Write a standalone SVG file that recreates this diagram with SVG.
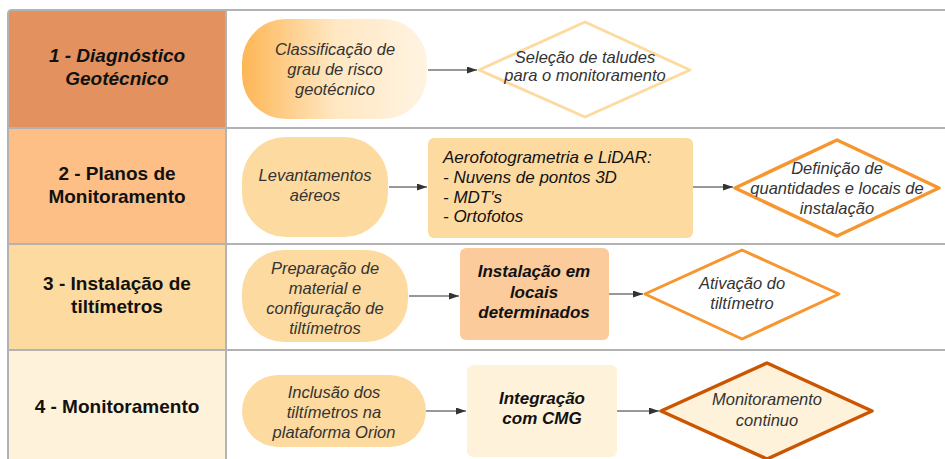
<svg xmlns="http://www.w3.org/2000/svg" width="945" height="459" viewBox="0 0 945 459">
<defs>
<style>
.lbl{font-family:"Liberation Sans",Arial,sans-serif;font-weight:bold;font-size:19px;fill:#111;text-anchor:middle}
.t{font-family:"Liberation Sans",Arial,sans-serif;font-style:italic;font-size:16.5px;fill:#333;text-anchor:middle}
.tl{font-family:"Liberation Sans",Arial,sans-serif;font-style:italic;font-size:17px;fill:#111;text-anchor:start}
.tb{font-family:"Liberation Sans",Arial,sans-serif;font-style:italic;font-weight:bold;font-size:17px;fill:#111;text-anchor:middle}
.grid{stroke:#b3b3b3;stroke-width:2;fill:none}
.conn{stroke:#333;stroke-width:1.2;fill:none;marker-end:url(#arr)}
</style>
<linearGradient id="g1" x1="0" y1="0" x2="1" y2="0">
<stop offset="0" stop-color="#FDB655"/>
<stop offset="0.5" stop-color="#FFE7C2"/>
<stop offset="1" stop-color="#FFF4E2"/>
</linearGradient>
<marker id="arr" markerWidth="11" markerHeight="8" refX="10" refY="3.5" orient="auto" markerUnits="userSpaceOnUse">
<path d="M0,0 L10,3.5 L0,7 z" fill="#333"/>
</marker>
</defs>
<rect width="945" height="459" fill="#fff"/>
<g id="lanes">
<path d="M8,128 V14 Q8,10 12,10 H226 V128 Z" fill="#E3915F"/>
<rect x="8" y="128" width="218" height="116" fill="#FDBF86"/>
<rect x="8" y="244" width="218" height="106" fill="#FDDAA0"/>
<rect x="8" y="350" width="218" height="110" fill="#FFF2DA"/>
<path class="grid" d="M8,460 V14 Q8,10 12,10 H946"/>
<path class="grid" d="M226,10 V460 M8,128 H946 M8,244 H946 M8,350 H946"/>
<text class="lbl" font-style="italic"><tspan x="117" y="62">1 - Diagnóstico</tspan><tspan x="117" y="85">Geotécnico</tspan></text>
<text class="lbl"><tspan x="117" y="180">2 - Planos de</tspan><tspan x="117" y="203">Monitoramento</tspan></text>
<text class="lbl"><tspan x="117" y="290">3 - Instalação de</tspan><tspan x="117" y="313">tiltímetros</tspan></text>
<text class="lbl"><tspan x="117" y="413">4 - Monitoramento</tspan></text>
</g>
<g id="connectors">
<path class="conn" d="M428,70 H477"/>
<path class="conn" d="M389,187 H427"/>
<path class="conn" d="M693,187 H733"/>
<path class="conn" d="M409,296 H459"/>
<path class="conn" d="M609,294 H643"/>
<path class="conn" d="M426,411 H466"/>
<path class="conn" d="M617,411 H659"/>
</g>
<g id="n1a">
<rect x="242" y="19" width="185" height="100" rx="44" fill="url(#g1)"/>
<text class="t" fill="#111"><tspan x="335" y="55">Classificação de</tspan><tspan x="335" y="75">grau de risco</tspan><tspan x="335" y="95">geotécnico</tspan></text>
</g>
<g id="n1b">
<path d="M585,22 L690,70 L585,117 L479,70 Z" fill="#fff" stroke="#FDDAA0" stroke-width="3" stroke-linejoin="round"/>
<text class="t" font-size="14"><tspan x="585" y="63">Seleção de taludes</tspan><tspan x="585" y="81">para o monitoramento</tspan></text>
</g>
<g id="n2a">
<rect x="242" y="137" width="146" height="100" rx="44" fill="#FDDAA0"/>
<text class="t" fill="#111"><tspan x="315" y="181">Levantamentos</tspan><tspan x="315" y="201">aéreos</tspan></text>
</g>
<g id="n2b">
<rect x="428" y="138" width="265" height="100" rx="6" fill="#FDDAA0"/>
<text class="tl"><tspan x="443" y="163">Aerofotogrametria e LiDAR:</tspan><tspan x="443" y="183">- Nuvens de pontos 3D</tspan><tspan x="443" y="203">- MDT's</tspan><tspan x="443" y="222">- Ortofotos</tspan></text>
</g>
<g id="n2c">
<path d="M837,140 L939,188 L837,236 L735,188 Z" fill="#fff" stroke="#F7952F" stroke-width="3.5" stroke-linejoin="round"/>
<text class="t"><tspan x="837" y="174">Definição de</tspan><tspan x="837" y="194">quantidades e locais de</tspan><tspan x="837" y="214">instalação</tspan></text>
</g>
<g id="n3a">
<rect x="242" y="250" width="166" height="92" rx="42" fill="#FDDAA0"/>
<text class="t" fill="#111"><tspan x="325" y="274">Preparação de</tspan><tspan x="325" y="294">material e</tspan><tspan x="325" y="314">configuração de</tspan><tspan x="325" y="334">tiltímetros</tspan></text>
</g>
<g id="n3b">
<rect x="460" y="248" width="149" height="92" rx="6" fill="#FCCB9C"/>
<text class="tb"><tspan x="534" y="277">Instalação em</tspan><tspan x="534" y="298">locais</tspan><tspan x="534" y="318">determinados</tspan></text>
</g>
<g id="n3c">
<path d="M742,250 L839,294 L742,339 L645,294 Z" fill="#fff" stroke="#F7952F" stroke-width="3" stroke-linejoin="round"/>
<text class="t"><tspan x="742" y="289">Ativação do</tspan><tspan x="742" y="309">tiltímetro</tspan></text>
</g>
<g id="n4a">
<rect x="242" y="375" width="184" height="72" rx="36" fill="#FDDAA0"/>
<text class="t" fill="#111"><tspan x="334" y="398">Inclusão dos</tspan><tspan x="334" y="418">tiltímetros na</tspan><tspan x="334" y="438">plataforma Orion</tspan></text>
</g>
<g id="n4b">
<rect x="467" y="365" width="150" height="92" rx="6" fill="#FFF2DA"/>
<text class="tb"><tspan x="542" y="404">Integração</tspan><tspan x="542" y="424">com CMG</tspan></text>
</g>
<g id="n4c">
<path d="M767,363 L872,411 L767,459 L661,411 Z" fill="#FFF2DA" stroke="#CC5500" stroke-width="3.5" stroke-linejoin="round"/>
<text class="t"><tspan x="767" y="405">Monitoramento</tspan><tspan x="767" y="426">continuo</tspan></text>
</g>
</svg>
